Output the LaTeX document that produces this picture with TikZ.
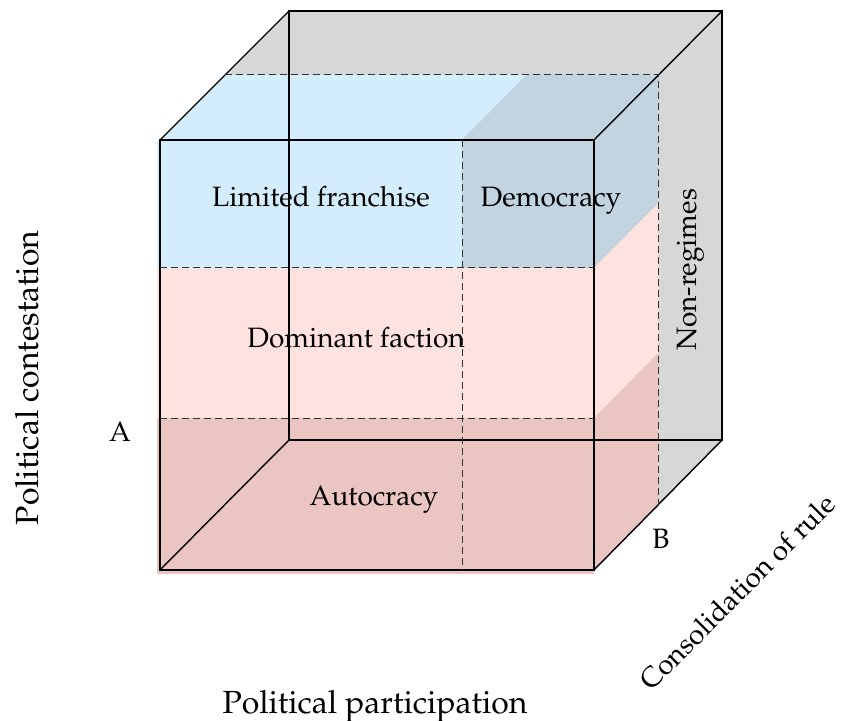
\documentclass[tikz,border=0pt]{standalone}
\usepackage[T1]{fontenc}
\usepackage{mathpazo}
\usepackage{tikz}
\usetikzlibrary{calc}

\definecolor{franchiseblue}{HTML}{D4EDFC}
\definecolor{democracyblue}{HTML}{C1D4E0}
\definecolor{factionpink}{HTML}{FEE2E0}
\definecolor{autocracypink}{HTML}{EBC5C1}
\definecolor{nonregimegray}{HTML}{D7D7D7}

\tikzset{
  cube edge/.style={line width=0.7pt,black},
  cut line/.style={line width=0.5pt,dash pattern=on 3.5pt off 2pt,black!80},
  region label/.style={font=\fontsize{14}{17}\selectfont,inner sep=0pt,anchor=base},
  axis label/.style={font=\fontsize{16}{19}\selectfont,inner sep=0pt,anchor=base}
}

\begin{document}
\begin{tikzpicture}[x=0.5pt,y=-0.5pt]
        \useasboundingbox (0,0) rectangle (850,721);

        % Front face corners
        \coordinate (ftl) at (160,140);
        \coordinate (ftr) at (594,140);
        \coordinate (fbl) at (160,570);
        \coordinate (fbr) at (594,570);

        % Back face corners
        \coordinate (btl) at (289,11);
        \coordinate (btr) at (722,11);
        \coordinate (bbl) at (289,440);
        \coordinate (bbr) at (722,440);

        % Cuts on the front face
        \coordinate (fal) at (160,268);
        \coordinate (far) at (594,268);
        \coordinate (fcl) at (160,418);
        \coordinate (fcr) at (594,418);
        \coordinate (fdt) at (462,140);
        \coordinate (fdb) at (462,570);

        % Half depth (point B)
        \coordinate (depth) at (64.5,-65);
        \coordinate (mtl) at ($(ftl)+(depth)$);
        \coordinate (mtr) at ($(ftr)+(depth)$);
        \coordinate (mbr) at ($(fbr)+(depth)$);
        \coordinate (mdt) at ($(fdt)+(depth)$);

        % ================== Fills ==================
        \fill[nonregimegray] (ftl) -- (btl) -- (btr) -- (bbr) -- (fbr) -- (fbl) -- cycle;

        % Top of the block
        \fill[franchiseblue] (ftl) -- (fdt) -- (mdt) -- (mtl) -- cycle;
        \fill[democracyblue] (fdt) -- (ftr) -- (mtr) -- (mdt) -- cycle;

        % Front of the block (a little bleed left and below)
        \fill[franchiseblue] (157,140) rectangle (fdt |- far);
        \fill[democracyblue] (fdt) rectangle (far);
        \fill[factionpink] (157,268) rectangle (fcr);
        \fill[autocracypink] (157,418) rectangle (594,574);

        % Side of the block
        \fill[democracyblue] (ftr) -- (mtr) -- ($(far)+(depth)$) -- (far) -- cycle;
        \fill[factionpink] (far) -- ($(far)+(depth)$) -- ($(fcr)+(depth)$) -- (fcr) -- cycle;
        \fill[autocracypink] (fcr) -- ($(fcr)+(depth)$) -- (mbr) -- (fbr) -- cycle;

        % ================== Edges ==================
        \draw[cube edge] (btl) rectangle (bbr);
        \draw[cube edge] (ftl) -- (btl) (ftr) -- (btr) (fbl) -- (bbl) (fbr) -- (bbr);
        \draw[cube edge] (ftl) rectangle (fbr);

        % Dashed cuts
        \draw[cut line] (fal) -- (far) (fcl) -- (fcr) (fdt) -- (fdb);
        \draw[cut line] (mtl) -- (mtr) -- (mbr);

        % ================== Labels ==================
        \node[region label] (franchise) at (321,207) {Limited franchise};
        \node[region label] (democracy) at (551,207) {Democracy};
        \node[region label] (faction) at (356,348) {Dominant faction};
        \node[region label] (autocracy) at (374,505) {Autocracy};
        \node[region label,rotate=90] (nonregimes) at (696,270) {Non-regimes};
        \node[region label] (pointA) at (120,441) {A};
        \node[region label] (pointB) at (661,548) {B};

        \node[axis label,rotate=90] (contestation) at (38,378) {Political contestation};
        \node[axis label] (participation) at (375,713) {Political participation};
        \node[region label,anchor=center,rotate=45] (consolidation) at (737,592) {Consolidation of rule};
\end{tikzpicture}
\end{document}
